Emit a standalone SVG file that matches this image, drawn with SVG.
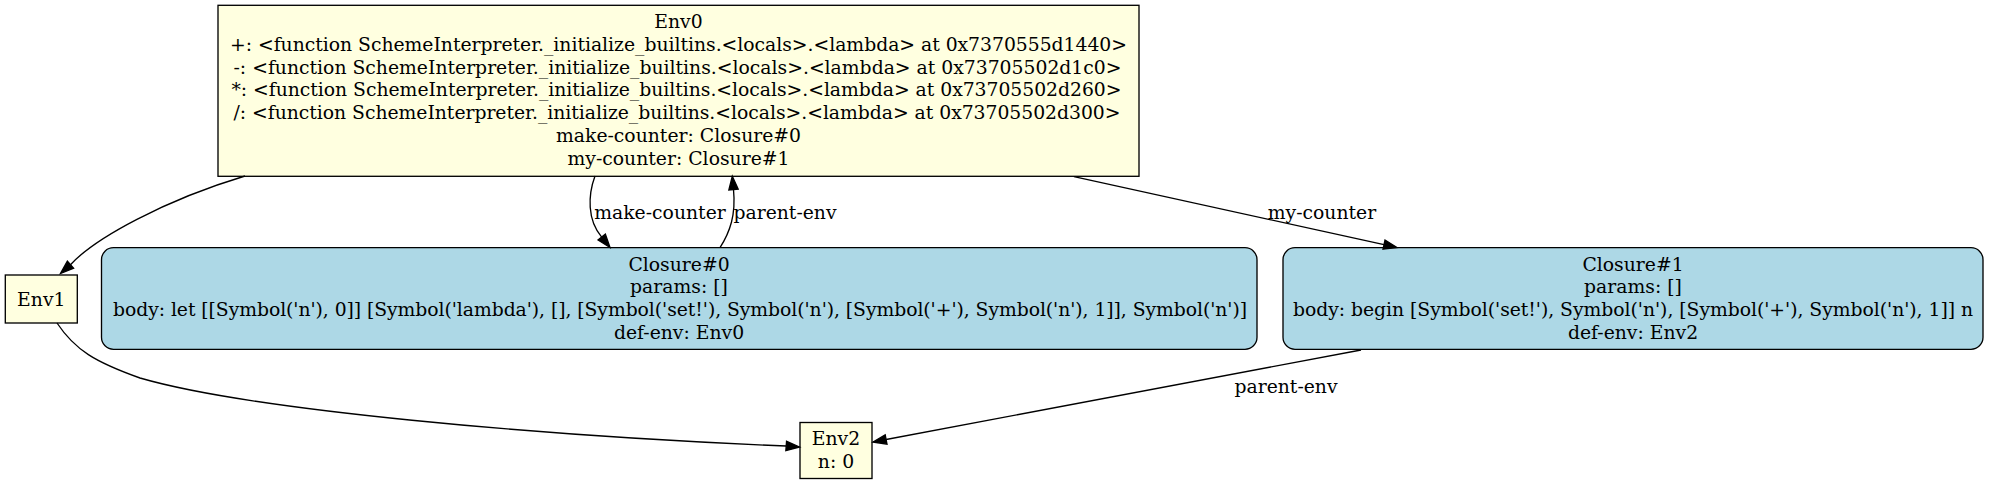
<svg xmlns="http://www.w3.org/2000/svg" width="1989" height="484" viewBox="0 0 1989 484">
<style>
text{font-family:"DejaVu Serif","Liberation Serif",serif;font-size:18.8px;fill:#000;text-anchor:middle}
.env{fill:#ffffe0;stroke:#000;stroke-width:1.33}
.clo{fill:#add8e6;stroke:#000;stroke-width:1.33}
.edge{fill:none;stroke:#000;stroke-width:1.33}
.ah{fill:#000;stroke:#000;stroke-width:1.33}
</style>
<rect width="1989" height="484" fill="#fff"/>
<g id="Env0">
<rect class="env" x="218" y="5.3" width="921" height="171"/>
<text x="678.5" y="28">Env0</text>
<text x="678.5" y="50.8" textLength="897">+: &lt;function SchemeInterpreter._initialize_builtins.&lt;locals&gt;.&lt;lambda&gt; at 0x7370555d1440&gt;</text>
<text x="677.5" y="73.6" textLength="888">-: &lt;function SchemeInterpreter._initialize_builtins.&lt;locals&gt;.&lt;lambda&gt; at 0x73705502d1c0&gt;</text>
<text x="676.5" y="96.4" textLength="890">*: &lt;function SchemeInterpreter._initialize_builtins.&lt;locals&gt;.&lt;lambda&gt; at 0x73705502d260&gt;</text>
<text x="677" y="119.2" textLength="887">/: &lt;function SchemeInterpreter._initialize_builtins.&lt;locals&gt;.&lt;lambda&gt; at 0x73705502d300&gt;</text>
<text x="678.5" y="142">make-counter: Closure#0</text>
<text x="678.5" y="164.8">my-counter: Closure#1</text>
</g>
<g id="Env1">
<rect class="env" x="5.3" y="275" width="72" height="48"/>
<text x="41.3" y="305.5">Env1</text>
</g>
<g id="Env2">
<rect class="env" x="800" y="422.5" width="72" height="56"/>
<text x="836" y="444.8">Env2</text>
<text x="836" y="467.6">n: 0</text>
</g>
<g id="Closure0">
<rect class="clo" x="101.5" y="247.7" width="1155.5" height="101.6" rx="12" ry="12"/>
<text x="679" y="270.5">Closure#0</text>
<text x="679" y="293.3">params: []</text>
<text x="680" y="316.1" textLength="1134">body: let [[Symbol('n'), 0]] [Symbol('lambda'), [], [Symbol('set!'), Symbol('n'), [Symbol('+'), Symbol('n'), 1]], Symbol('n')]</text>
<text x="679" y="338.9">def-env: Env0</text>
</g>
<g id="Closure1">
<rect class="clo" x="1283" y="247.7" width="700" height="101.6" rx="12" ry="12"/>
<text x="1633" y="270.5">Closure#1</text>
<text x="1633" y="293.3">params: []</text>
<text x="1633" y="316.1" textLength="680">body: begin [Symbol('set!'), Symbol('n'), [Symbol('+'), Symbol('n'), 1]] n</text>
<text x="1633" y="338.9">def-env: Env2</text>
</g>
<g id="connectors">
<path class="edge" d="M245,176 C165,200 95,238 70.5,264.7"/>
<polygon class="ah" points="67.4,261.2 60.5,273.5 73.6,268.2"/>
<path class="edge" d="M57,323 C75,350 95,362 140,378 C250,410 540,436 786.2,446"/>
<polygon class="ah" points="785.85,450.66 799.5,447 786.55,441.34"/>
<path class="edge" d="M595,176 C588,195 587,220 601.7,237.1"/>
<polygon class="ah" points="598.05,240 610,247.5 605.35,234.2"/>
<text x="660" y="219">make-counter</text>
<path class="edge" d="M720,247.7 C730,232 736,215 733.5,189.5"/>
<polygon class="ah" points="738.15,189.08 732.3,176.3 728.85,189.92"/>
<text x="785" y="219">parent-env</text>
<path class="edge" d="M1074,176.7 L1384,244.65"/>
<polygon class="ah" points="1383,249.2 1397,247.5 1385,240.1"/>
<text x="1322" y="219">my-counter</text>
<path class="edge" d="M1361,350 L886.1,439.5"/>
<polygon class="ah" points="885.2,434.9 873,442 887,444.1"/>
<text x="1286" y="393">parent-env</text>
</g>
</svg>
